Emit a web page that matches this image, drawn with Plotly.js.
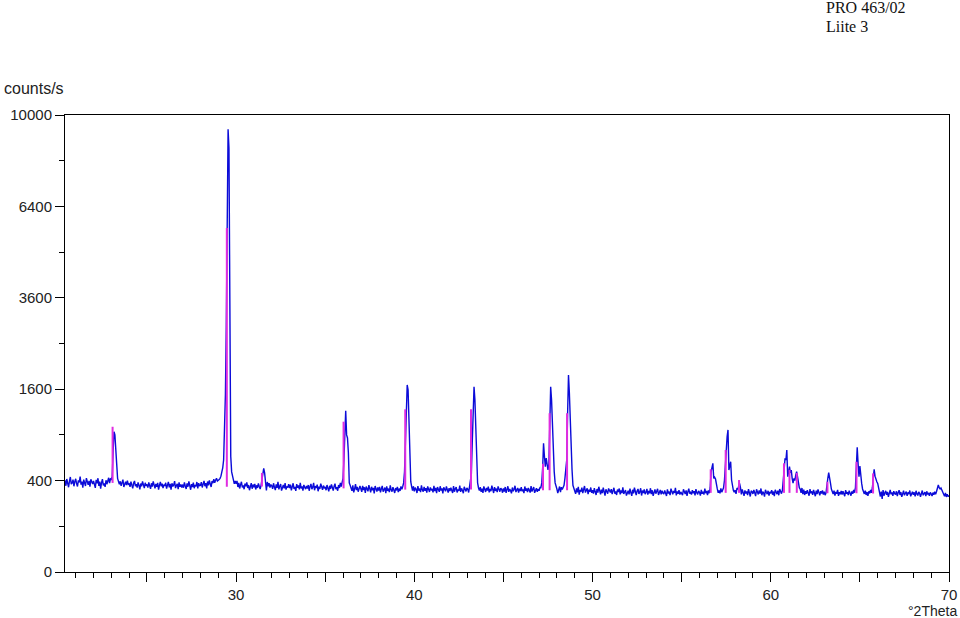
<!DOCTYPE html>
<html>
<head>
<meta charset="utf-8">
<script src="https://cdn.plot.ly/plotly-3.0.1.min.js"></script>
<style>html,body{margin:0;padding:0;background:#fff;}#chart{width:960px;height:618px;}</style>
</head>
<body>
<div id="chart"></div>
<script>
// Scan: start angle and step (°2Theta)
const scanStart = 20.40;
const scanStep = 0.05;

// Measured intensity (counts/s), one row per degree
const counts = [
  402,356,414,388,344,396,432,370,380,408,352,390,                          // 20.40-20.95
  416,374,350,402,384,436,366,392,340,408,378,354,422,390,364,398,348,412,382,370, // 21
  397,363,339,407,377,421,355,391,333,383,413,359,375,347,403,369,393,425,379,415, // 22
  410,440,700,942,900,760,560,420,390,368,394,356,382,408,346,376,390,362,400,368, // 23
  373,347,391,361,335,379,397,353,369,341,385,359,327,375,351,393,363,337,381,355, // 24
  367,341,385,355,331,377,349,393,363,335,371,347,381,325,359,389,351,373,337,365, // 25
  355,381,333,365,389,343,371,325,377,351,363,395,337,359,373,329,385,347,367,341, // 26
  366,340,384,354,330,376,348,394,358,324,370,346,382,336,364,352,388,334,378,356, // 27
  358,386,342,370,398,352,378,334,392,360,402,372,346,396,378,412,380,404,420,396, // 28
  400,410,420,440,480,520,600,900,1500,2900,6400,9390,8600,4500,640,480,440,400,372,398, // 29
  372,398,346,380,334,364,390,342,358,328,374,352,384,338,362,320,356,378,332,366, // 30
  344,372,326,360,338,376,350,330,360,420,480,515,470,400,318,388,352,378,342,366, // 31
  355,331,377,345,321,367,339,389,327,353,371,317,347,363,335,379,325,351,341,369, // 32
  337,365,319,353,377,331,347,315,369,341,359,327,381,335,351,317,363,345,329,355, // 33
  334,362,316,350,372,328,344,380,320,354,338,366,312,348,330,374,342,324,358,336, // 34
  346,320,362,334,312,356,330,368,340,318,352,374,328,344,316,362,338,380,350,380, // 35
  420,600,990,1245,900,860,680,380,360,341,315,359,303,331,369,321,347,309,337,355, // 36
  332,308,356,322,344,300,350,326,312,362,334,304,348,320,338,296,354,328,310,342, // 37
  317,347,303,331,355,309,325,341,297,351,315,333,305,359,323,309,345,327,299,337, // 38
  319,347,305,333,315,351,327,350,380,480,900,1400,1675,1590,1100,620,390,350,318,352, // 39
  311,341,327,299,353,317,333,305,359,323,309,347,315,337,301,351,325,307,343,319, // 40
  330,304,356,314,338,298,346,322,308,352,318,334,296,344,326,312,350,320,302,336, // 41
  313,341,323,299,353,309,331,345,303,327,315,357,307,335,319,297,347,329,311,339, // 42
  327,303,350,380,460,800,1400,1644,1416,1000,600,380,340,317,345,307,333,299,351,317, // 43
  307,339,317,349,303,331,313,357,323,299,345,315,333,305,351,321,309,337,327,301, // 44
  334,310,346,300,324,352,308,330,318,296,342,312,328,356,306,320,338,302,332,314, // 45
  344,312,326,298,350,316,334,306,338,320,302,354,310,328,346,300,322,336,308,330, // 46
  316,342,340,380,520,793,640,531,622,560,498,560,1100,1644,1416,1011,751,480,380,340, // 47
  330,298,318,350,306,344,326,352,360,420,531,600,1200,1858,1530,1011,834,498,360,330, // 48
  318,292,334,304,348,286,322,310,340,298,326,354,302,316,336,290,324,308,342,300, // 49
  320,294,336,308,284,330,302,348,312,288,324,298,340,306,280,328,310,294,334,316, // 50
  302,328,290,316,340,294,310,284,326,306,334,288,318,298,344,292,312,322,280,308, // 51
  316,288,332,302,278,324,296,340,308,284,314,330,292,306,336,280,318,298,326,290, // 52
  304,330,286,314,296,336,290,320,278,308,326,294,312,332,284,302,322,288,316,298, // 53
  291,319,301,277,327,295,309,283,333,305,289,315,299,339,281,311,293,321,287,307, // 54
  299,283,327,305,291,319,277,309,333,295,303,287,321,297,313,281,329,301,289,315, // 55
  305,279,323,293,309,287,333,297,315,283,319,297,340,480,520,566,420,430,414,348, // 56
  330,300,318,296,334,305,326,340,400,600,700,876,966,498,560,582,405,340,320,305, // 57
  321,293,333,330,370,376,340,289,327,301,277,319,295,311,283,329,297,273,315,309, // 58
  292,322,300,276,328,306,288,318,294,334,282,310,298,272,324,304,290,316,280,308, // 59
  296,320,286,310,276,324,298,290,316,282,330,300,294,318,380,500,620,600,713,435, // 60
  480,531,470,498,420,379,420,400,450,482,435,380,340,330,300,338,290,324,284,312, // 61
  293,321,303,279,329,297,311,285,323,301,275,317,291,327,305,281,313,295,319,287, // 62
  309,283,300,340,420,472,400,379,330,310,291,317,279,307,293,323,277,305,289,315, // 63
  287,313,299,275,321,293,305,283,317,297,279,311,293,323,301,340,480,745,560,435, // 64
  538,420,376,330,310,292,316,284,306,278,312,296,322,300,340,430,505,440,405,390, // 65
  376,330,303,273,309,255,321,279,299,315,285,307,271,297,323,289,303,277,313,295, // 66
  288,312,276,302,320,284,306,270,296,316,282,300,310,278,304,290,318,274,298,308, // 67
  286,304,274,316,292,280,308,296,270,302,318,282,294,306,276,312,288,300,278,304, // 68
  292,276,302,286,308,290,310,340,362,340,330,338,320,300,290,274,300,270,290,272, // 69
  280                                                                           // 70.00
];

// Reference pattern (magenta sticks): position, top and foot intensity
const refPos  = [23.07, 29.48, 31.45, 36.03, 39.49, 43.18, 47.22, 47.59, 48.57, 56.63, 57.47, 58.22, 60.74, 61.05, 61.46, 63.18, 64.81, 65.74];
const refTop  = [1010, 5670, 470, 1082, 1267, 1267, 560, 1207, 1207, 505, 713, 405, 566, 500, 470, 390, 582, 466];
const refBase = [380, 348, 350, 335, 325, 325, 320, 320, 320, 300, 300, 300, 300, 300, 300, 297, 297, 295];

// Axis labels
const yTickCounts = [0, 400, 1600, 3600, 6400, 10000];
const xTickVals = [25, 30, 35, 40, 45, 50, 55, 60, 65, 70];
const xTickText = ['', '30', '', '40', '', '50', '', '60', '', '70'];

// square-root intensity scale
const sq = v => Math.sqrt(v);

const twoTheta = counts.map((_, i) => +(scanStart + i * scanStep).toFixed(2));

const stickX = [], stickY = [];
refPos.forEach((p, i) => {
  stickX.push(p, p, null);
  stickY.push(sq(refBase[i]), sq(refTop[i]), null);
});

const tickFont = {family: 'Liberation Sans, Arial, sans-serif', size: 15, color: '#222'};

const data = [
  {x: twoTheta, y: counts.map(sq), type: 'scatter', mode: 'lines',
   line: {color: '#0b0bd8', width: 1.4}, hoverinfo: 'skip', showlegend: false},
  {x: stickX, y: stickY, type: 'scatter', mode: 'lines',
   line: {color: '#e02ce0', width: 2}, hoverinfo: 'skip', showlegend: false}
];

const layout = {
  width: 960, height: 618,
  margin: {l: 65, r: 11, t: 115, b: 46, pad: 0},
  paper_bgcolor: '#fff', plot_bgcolor: '#fff',
  showlegend: false,
  xaxis: {
    range: [20.4, 70], showgrid: false, zeroline: false,
    showline: true, linecolor: '#000', linewidth: 1, mirror: true,
    ticks: 'outside', ticklen: 9, tickcolor: '#000', tickwidth: 1,
    tickmode: 'array', tickvals: xTickVals, ticktext: xTickText,
    tickfont: tickFont,
    minor: {dtick: 1, tick0: 0, ticks: 'outside', ticklen: 5, tickcolor: '#000', showgrid: false}
  },
  yaxis: {
    range: [0, 100], showgrid: false, zeroline: false,
    showline: true, linecolor: '#000', linewidth: 1, mirror: true,
    ticks: 'outside', ticklen: 9, tickcolor: '#000', tickwidth: 1,
    tickmode: 'array', tickvals: yTickCounts.map(sq), ticktext: yTickCounts.map(String),
    tickfont: tickFont,
    minor: {dtick: 10, tick0: 0, ticks: 'outside', ticklen: 5, tickcolor: '#000', showgrid: false}
  },
  annotations: [
    {text: 'PRO 463/02', xref: 'paper', yref: 'paper', x: 0.8586, y: 1.2363, xanchor: 'left', yanchor: 'middle', showarrow: false,
     font: {family: 'Liberation Serif, Times New Roman, serif', size: 16, color: '#111'}},
    {text: 'Liite 3', xref: 'paper', yref: 'paper', x: 0.8586, y: 1.1926, xanchor: 'left', yanchor: 'middle', showarrow: false,
     font: {family: 'Liberation Serif, Times New Roman, serif', size: 16, color: '#111'}},
    {text: 'counts/s', xref: 'paper', yref: 'paper', x: -0.0713, y: 1.059, xanchor: 'left', yanchor: 'middle', showarrow: false,
     font: {family: 'Liberation Sans, Arial, sans-serif', size: 16, color: '#222'}},
    {text: '°2Theta', xref: 'paper', yref: 'paper', x: 1.0102, y: -0.0853, xanchor: 'right', yanchor: 'middle', showarrow: false,
     font: {family: 'Liberation Sans, Arial, sans-serif', size: 14, color: '#222'}, borderpad: 0}
  ]
};

Plotly.newPlot('chart', data, layout, {displayModeBar: false, staticPlot: true});
</script>
</body>
</html>
